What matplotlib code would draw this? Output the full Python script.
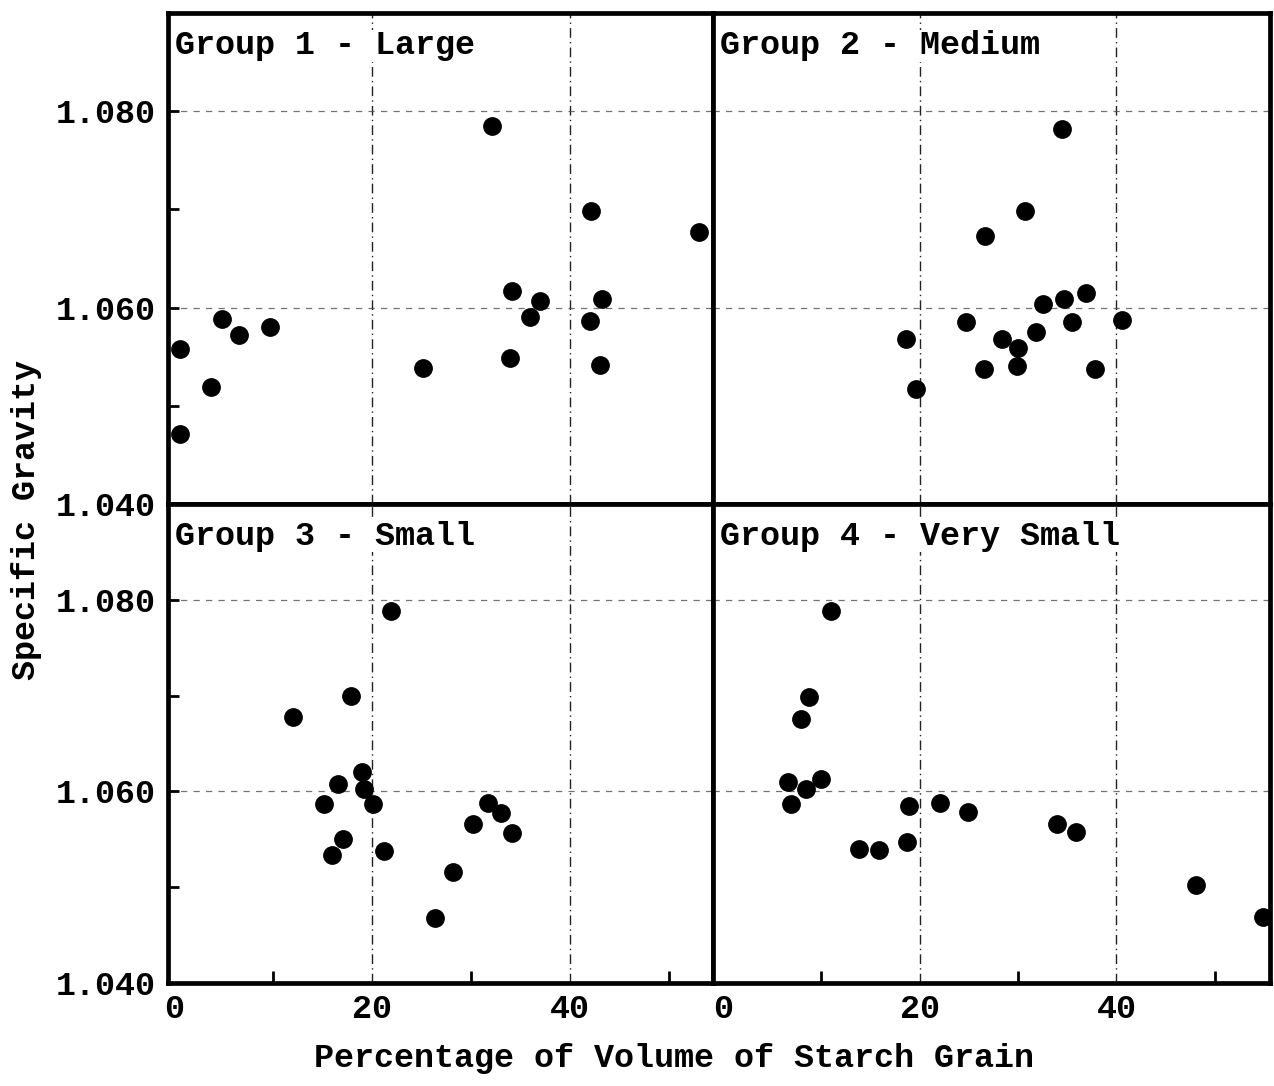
import matplotlib
matplotlib.use("Agg")
import matplotlib.pyplot as plt

# ---- data ----
titles = ["Group 1 - Large", "Group 2 - Medium", "Group 3 - Small", "Group 4 - Very Small"]

g1_x = [0.6, 0.6, 3.7, 4.8, 6.6, 9.7, 25.1, 32.1, 34.1, 36.9, 35.9, 33.9, 42.1, 43.2, 42.0, 43.0, 53.0]
g1_y = [1.0558, 1.0471, 1.0519, 1.0588, 1.0572, 1.0580, 1.0538, 1.0785, 1.0617, 1.0607,
        1.0590, 1.0549, 1.0698, 1.0609, 1.0586, 1.0542, 1.0677]

g2_x = [34.5, 30.7, 26.6, 36.9, 34.7, 32.5, 24.7, 35.5, 40.6, 31.8, 28.4, 18.6, 30.0, 26.5, 29.9, 37.8, 19.6]
g2_y = [1.0782, 1.0698, 1.0673, 1.0615, 1.0609, 1.0604, 1.0585, 1.0585, 1.0587, 1.0575,
        1.0568, 1.0568, 1.0559, 1.0537, 1.0541, 1.0537, 1.0517]

g3_x = [21.9, 12.0, 17.9, 19.0, 16.6, 19.2, 15.1, 20.1, 17.1, 16.0, 21.2, 31.7, 33.0, 30.2, 34.1, 28.2, 26.3]
g3_y = [1.0788, 1.0678, 1.0700, 1.0620, 1.0608, 1.0603, 1.0587, 1.0587, 1.0550, 1.0534,
        1.0538, 1.0588, 1.0577, 1.0566, 1.0557, 1.0516, 1.0468]

g4_x = [11.0, 8.8, 7.9, 6.6, 10.0, 8.5, 6.9, 18.9, 22.1, 24.9, 13.8, 15.9, 18.7, 34.0, 35.9, 48.1, 54.9]
g4_y = [1.0788, 1.0699, 1.0676, 1.0610, 1.0613, 1.0603, 1.0587, 1.0585, 1.0588, 1.0579,
        1.0540, 1.0539, 1.0547, 1.0566, 1.0558, 1.0502, 1.0469]

y_major = [1.040, 1.060, 1.080]
y_major_labels = ["1.040", "1.060", "1.080"]
y_minor = [1.050, 1.070]
x_major = [0, 20, 40]
x_major_labels = ["0", "20", "40"]
x_minor = [10, 30, 50]

xlabel = "Percentage of Volume of Starch Grain"
ylabel = "Specific Gravity"

# ---- figure ----
W, H = 1274, 1086
fig = plt.figure(figsize=(W / 100, H / 100), dpi=100)
FONT = "Liberation Mono"
FS = 24
FW = "bold"

def px_axes(l, r, t, b):
    return fig.add_axes([l / W, 1 - b / H, (r - l) / W, (b - t) / H])

boxes = [
    (168, 713, 13, 504, (-0.6, 54.4)),
    (713, 1270, 13, 504, (-1.0, 55.6)),
    (168, 713, 504, 983, (-0.6, 54.4)),
    (713, 1270, 504, 983, (-1.0, 55.6)),
]
xs = [g1_x, g2_x, g3_x, g4_x]
ys = [g1_y, g2_y, g3_y, g4_y]

for i, (l, r, t, b, xl) in enumerate(boxes):
    ax = px_axes(l, r, t, b)
    ax.set_xlim(*xl)
    ax.set_ylim(1.040, 1.090)
    for s in ax.spines.values():
        s.set_linewidth(3.4)
        s.set_color("black")
    # grid lines
    for gx in [20, 40]:
        ax.axvline(gx, color="#222222", lw=1.0, ls=(0, (7, 3, 1, 3)), zorder=1)
    for gy in [1.060, 1.080]:
        ax.axhline(gy, color="#444444", lw=0.9, ls=(0, (5, 5)), alpha=0.75, zorder=1)
    ax.plot(xs[i], ys[i], "o", color="black", ms=12.5, mec="black", zorder=3)
    ax.text(0.012, 0.965, titles[i], transform=ax.transAxes, ha="left", va="top",
            fontsize=FS, family=FONT, fontweight=FW, color="black",
            bbox=dict(facecolor="white", edgecolor="none", pad=0.5))

    # y ticks
    ax.set_yticks(y_major)
    ax.set_yticks(y_minor, minor=True)
    ax.tick_params(axis="y", which="both", direction="in", length=8, width=2, right=False)
    if i in (0, 2):
        ax.set_yticklabels(y_major_labels, family=FONT, fontsize=FS, fontweight=FW)
        ax.tick_params(axis="y", pad=9)
    else:
        ax.tick_params(axis="y", which="both", length=0, labelleft=False)

    # x ticks
    ax.set_xticks(x_major)
    ax.set_xticks(x_minor, minor=True)
    if i in (2, 3):
        ax.set_xticklabels(x_major_labels, family=FONT, fontsize=FS, fontweight=FW)
        ax.tick_params(axis="x", which="major", length=0, pad=8)
        ax.tick_params(axis="x", which="minor", direction="in", length=9, width=2)
    else:
        ax.tick_params(axis="x", which="both", length=0, labelbottom=False)

fig.text(674 / W, 1 - 1058 / H, xlabel, ha="center", va="center",
         fontsize=FS, family=FONT, fontweight=FW, color="black")
fig.text(27 / W, 1 - 520 / H, ylabel, ha="center", va="center", rotation=90,
         fontsize=FS, family=FONT, fontweight=FW, color="black")

fig.savefig("out.png", dpi=100, facecolor="white")
